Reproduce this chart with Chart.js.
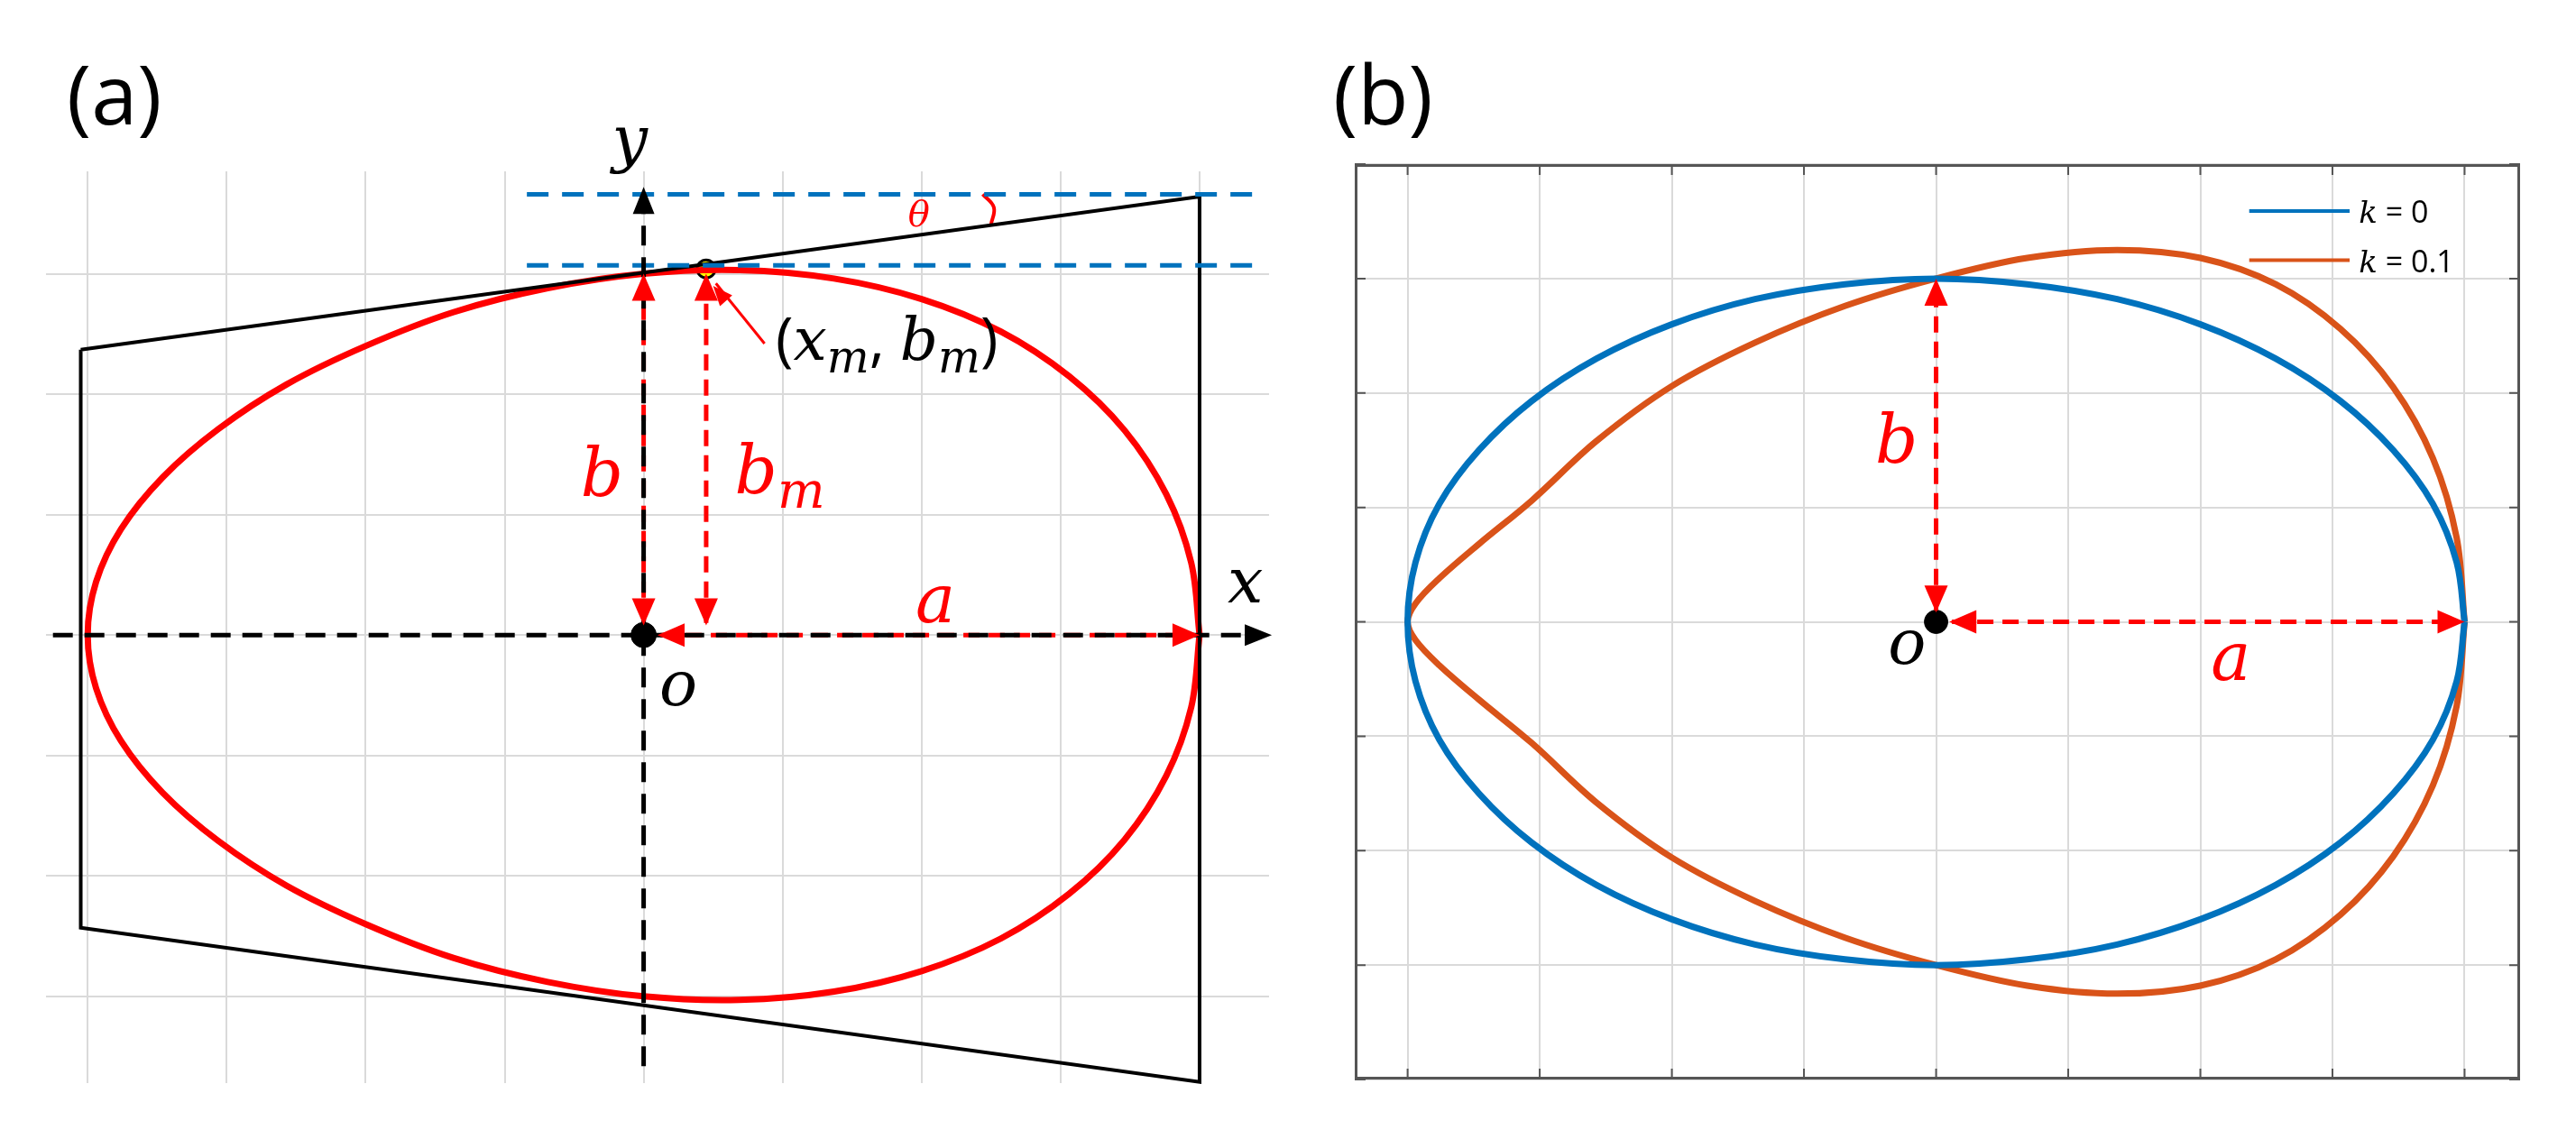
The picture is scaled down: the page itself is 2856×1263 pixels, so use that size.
<!DOCTYPE html>
<html><head><meta charset="utf-8">
<script src="https://cdn.jsdelivr.net/npm/chart.js@4/dist/chart.umd.min.js"></script>
<style>
body{margin:0;background:#fff;width:2856px;height:1263px;position:relative;overflow:hidden;font-family:"Open Sans",sans-serif}
.box{position:absolute}
.lbl{position:absolute;transform:translate(-50%,-50%);white-space:nowrap;line-height:1}
.m{font-family:"DejaVu Serif","Liberation Serif",serif;font-style:italic}
.panel{position:absolute;font-family:"Open Sans",sans-serif;font-size:92px;color:#000}
</style></head><body>
<div class="panel" style="left:74px;top:40px">(a)</div>
<div class="panel" style="left:1478px;top:40px">(b)</div>
<div class="box" id="ba" style="left:36px;top:175px;width:1386px;height:1041px"><canvas id="ca" width="1386" height="1041"></canvas></div>
<div class="box" id="bb" style="left:1488px;top:168px;width:1320px;height:1043px"><canvas id="cb" width="1320" height="1043"></canvas></div>
<script>
// ---- data ----
const eggAx = [4,3.94,3.76,3.46,3.06,2.57,2.0,1.37,0.69,0,-0.69,-1.37,-2.0,-2.57,-3.06,-3.46,-3.76,-3.94,-4];
const eggAy = [0,0.60,1.17,1.70,2.15,2.52,2.79,2.96,3.03,3.00,2.88,2.68,2.40,2.08,1.71,1.31,0.88,0.44,0];
const trapX = [-4.05,4.0,4.0,-4.05,-4.05];
const trapY = [2.37,3.64,-3.71,-2.43,2.37];
const blueLinesY = [3.66,3.07];
const blueLinesX = [-0.84,4.44];
const thetaArcX = [2.44,2.52,2.50];
const thetaArcY = [3.66,3.55,3.41];
const tangentPoint = [0.45,3.04];
const ellX = [4,3.94,3.76,3.46,3.06,2.57,2.0,1.37,0.69,0,-0.69,-1.37,-2.0,-2.57,-3.06,-3.46,-3.76,-3.94,-4];
const ellY = [0,0.52,1.03,1.50,1.93,2.30,2.60,2.82,2.95,3.00,2.95,2.82,2.60,2.30,1.93,1.50,1.03,0.52,0];
const k01Y = [0,0.735,1.43,2.05,2.56,2.95,3.18,3.25,3.18,3.00,2.76,2.44,2.06,1.58,1.06,0.68,0.38,0.16,0];
const legendLabels = ['k = 0','k = 0.1'];

function loop(xs, ys){
  const up = xs.map((x,i)=>({x, y:ys[i]}));
  const rx = xs.slice().reverse(), ry = ys.slice().reverse();
  const lo = rx.map((x,i)=>({x, y:-ry[i]}));
  return up.concat(lo.slice(1));
}
function pts(xs, ys){return xs.map((x,i)=>({x,y:ys[i]}));}

function scales(xmin,xmax,ymin,ymax){
  const f = s => { s.ticks = s.ticks.filter(t => Math.abs(t.value-Math.round(t.value))<1e-9); };
  const ax = (mn,mx)=>({type:'linear',min:mn,max:mx,ticks:{display:false,stepSize:1},
    grid:{color:'#dadada',lineWidth:2,drawTicks:false},border:{display:false},afterBuildTicks:f});
  return {x:ax(xmin,xmax), y:ax(ymin,ymax)};
}
function line(data,color,w,dash,tension){
  return {data,showLine:true,borderColor:color,borderWidth:w,borderDash:dash||[],pointRadius:0,tension:tension||0,fill:false,clip:false};
}
function head(ctx,x1,y1,x2,y2,color,len,wid){
  const a=Math.atan2(y2-y1,x2-x1);
  ctx.save();ctx.fillStyle=color;ctx.beginPath();
  ctx.moveTo(x2,y2);
  ctx.lineTo(x2-len*Math.cos(a)+wid*Math.sin(a), y2-len*Math.sin(a)-wid*Math.cos(a));
  ctx.lineTo(x2-len*Math.cos(a)-wid*Math.sin(a), y2-len*Math.sin(a)+wid*Math.cos(a));
  ctx.closePath();ctx.fill();ctx.restore();
}
function arrowsPlugin(arrows){
  return {id:'arr',afterDatasetsDraw(c){
    const X=c.scales.x, Y=c.scales.y, ctx=c.ctx;
    arrows.forEach(a=>{
      const p1=[X.getPixelForValue(a[0]),Y.getPixelForValue(a[1])], p2=[X.getPixelForValue(a[2]),Y.getPixelForValue(a[3])];
      head(ctx,p1[0],p1[1],p2[0],p2[1],a[5],a[6],a[7]);
      if(a[4]) head(ctx,p2[0],p2[1],p1[0],p1[1],a[5],a[6],a[7]);
    });
  }};
}
function labelsPlugin(boxId, labels){
  let done=false;
  return {id:'lbls',afterRender(c){
    if(done) return; done=true;
    const box=document.getElementById(boxId);
    labels.forEach(l=>{
      const d=document.createElement('div'); d.className='lbl '+(l.cls||'');
      d.innerHTML=l.t; d.style.left=c.scales.x.getPixelForValue(l.x)+'px'; d.style.top=c.scales.y.getPixelForValue(l.y)+'px';
      d.style.fontSize=l.s+'px'; d.style.color=l.c||'#000';
      if(l.left){d.style.transform='translate(0,-50%)';}
      box.appendChild(d);
    });
  }};
}
const RED='#ff0000', BLUE='#0072bd', ORANGE='#d95319';

// ---- panel (a) ----
new Chart(document.getElementById('ca'),{
  type:'scatter',
  data:{datasets:[
    line(pts([-4.25,4.42],[0,0]),'#000',5,[22,13]),
    line(pts([0,0],[-3.58,3.62]),'#000',5,[22,13]),
    line(pts(blueLinesX,[blueLinesY[0],blueLinesY[0]]),BLUE,5,[24,15]),
    line(pts(blueLinesX,[blueLinesY[1],blueLinesY[1]]),BLUE,5,[24,15]),
    line(pts(trapX,trapY),'#000',4),
    line(loop(eggAx,eggAy),RED,7,[],0.35),
    line(pts(thetaArcX,thetaArcY),RED,4,[],0.4),
    line(pts([0,0],[0.1,2.95]),RED,5,[18,10]),
    line(pts([tangentPoint[0],tangentPoint[0]],[0.1,2.95]),RED,5,[18,10]),
    line(pts([0.12,3.95],[0,0]),RED,5,[18,10]),
    line(pts([0.87,0.52],[2.42,2.92]),RED,3),
    {data:[{x:0,y:0}],pointRadius:14,pointBackgroundColor:'#000',pointBorderColor:'#000',showLine:false,clip:false},
    {data:[{x:tangentPoint[0],y:tangentPoint[1]}],pointRadius:10,backgroundColor:'#ffff00',pointBackgroundColor:'#ffff00',borderColor:'#000',pointBorderColor:'#000',pointBorderWidth:3,showLine:false,clip:false}
  ]},
  options:{responsive:false,animation:false,devicePixelRatio:1,layout:{padding:0},
    plugins:{legend:{display:false},tooltip:{enabled:false}},
    scales:scales(-4.3,4.5,-3.72,3.85)},
  plugins:[arrowsPlugin([
    [4.3,0,4.52,0,false,'#000',30,12],
    [0,3.5,0,3.72,false,'#000',30,12],
    [0,0.08,0,3.0,true,RED,30,13],
    [tangentPoint[0],0.08,tangentPoint[0],3.0,true,RED,30,13],
    [0.1,0,4.0,0,true,RED,30,13],
    [0.8,2.5,0.5,2.9,false,RED,22,9]
  ]), labelsPlugin('ba',[
    {t:'y',x:-0.1,y:4.12,s:70,cls:'m'},
    {t:'x',x:4.33,y:0.45,s:70,cls:'m'},
    {t:'o',x:0.25,y:-0.4,s:70,cls:'m'},
    {t:'θ',x:1.98,y:3.5,s:40,cls:'m',c:RED},
    {t:'b',x:-0.3,y:1.35,s:74,cls:'m',c:RED},
    {t:'b<sub style="font-size:0.75em">m</sub>',x:0.98,y:1.32,s:74,cls:'m',c:RED},
    {t:'a',x:2.1,y:0.3,s:74,cls:'m',c:RED},
    {t:'(<span class="m">x<sub style="font-size:0.75em">m</sub></span>, <span class="m">b<sub style="font-size:0.75em">m</sub></span>)',x:0.95,y:2.42,s:66,left:true}
  ])]
});

// ---- panel (b) ----
new Chart(document.getElementById('cb'),{
  type:'scatter',
  data:{datasets:[
    line(loop(ellX,ellY),BLUE,7,[],0.35),
    line(loop(ellX,k01Y),ORANGE,7,[],0.35),
    line(pts([0,0],[0.1,2.95]),RED,5,[18,10]),
    line(pts([0.12,3.95],[0,0]),RED,5,[18,10]),
    {data:[{x:0,y:0}],pointRadius:13,pointBackgroundColor:'#000',pointBorderColor:'#000',showLine:false,clip:false},
    line(pts([2.37,3.13],[3.59,3.59]),BLUE,4),
    line(pts([2.37,3.13],[3.16,3.16]),ORANGE,4)
  ]},
  options:{responsive:false,animation:false,devicePixelRatio:1,layout:{padding:0},
    plugins:{legend:{display:false},tooltip:{enabled:false}},
    scales:scales(-4.4,4.42,-4,4)},
  plugins:[{id:'frame',afterDraw(c){
      const a=c.chartArea, ctx=c.ctx; ctx.save(); ctx.strokeStyle='#555'; ctx.lineWidth=3;
      ctx.strokeRect(a.left+1.5,a.top+1.5,a.right-a.left-3,a.bottom-a.top-3);
      ctx.lineWidth=2;
      c.scales.x.ticks.forEach(t=>{const p=c.scales.x.getPixelForValue(t.value);
        ctx.beginPath();ctx.moveTo(p,a.top);ctx.lineTo(p,a.top+12);ctx.moveTo(p,a.bottom);ctx.lineTo(p,a.bottom-12);ctx.stroke();});
      c.scales.y.ticks.forEach(t=>{const p=c.scales.y.getPixelForValue(t.value);
        ctx.beginPath();ctx.moveTo(a.left,p);ctx.lineTo(a.left+12,p);ctx.moveTo(a.right,p);ctx.lineTo(a.right-12,p);ctx.stroke();});
      ctx.restore();}},
    arrowsPlugin([[0,0.08,0,3.0,true,RED,30,13],[0.1,0,4.0,0,true,RED,30,13]]),
    labelsPlugin('bb',[
      {t:'o',x:-0.22,y:-0.18,s:70,cls:'m'},
      {t:'b',x:-0.3,y:1.6,s:74,cls:'m',c:RED},
      {t:'a',x:2.23,y:-0.3,s:74,cls:'m',c:RED},
      {t:'<span class="m">k</span> = 0',x:3.2,y:3.59,s:34,left:true},
      {t:'<span class="m">k</span> = 0.1',x:3.2,y:3.16,s:34,left:true}
    ])]
});
</script>
</body></html>
